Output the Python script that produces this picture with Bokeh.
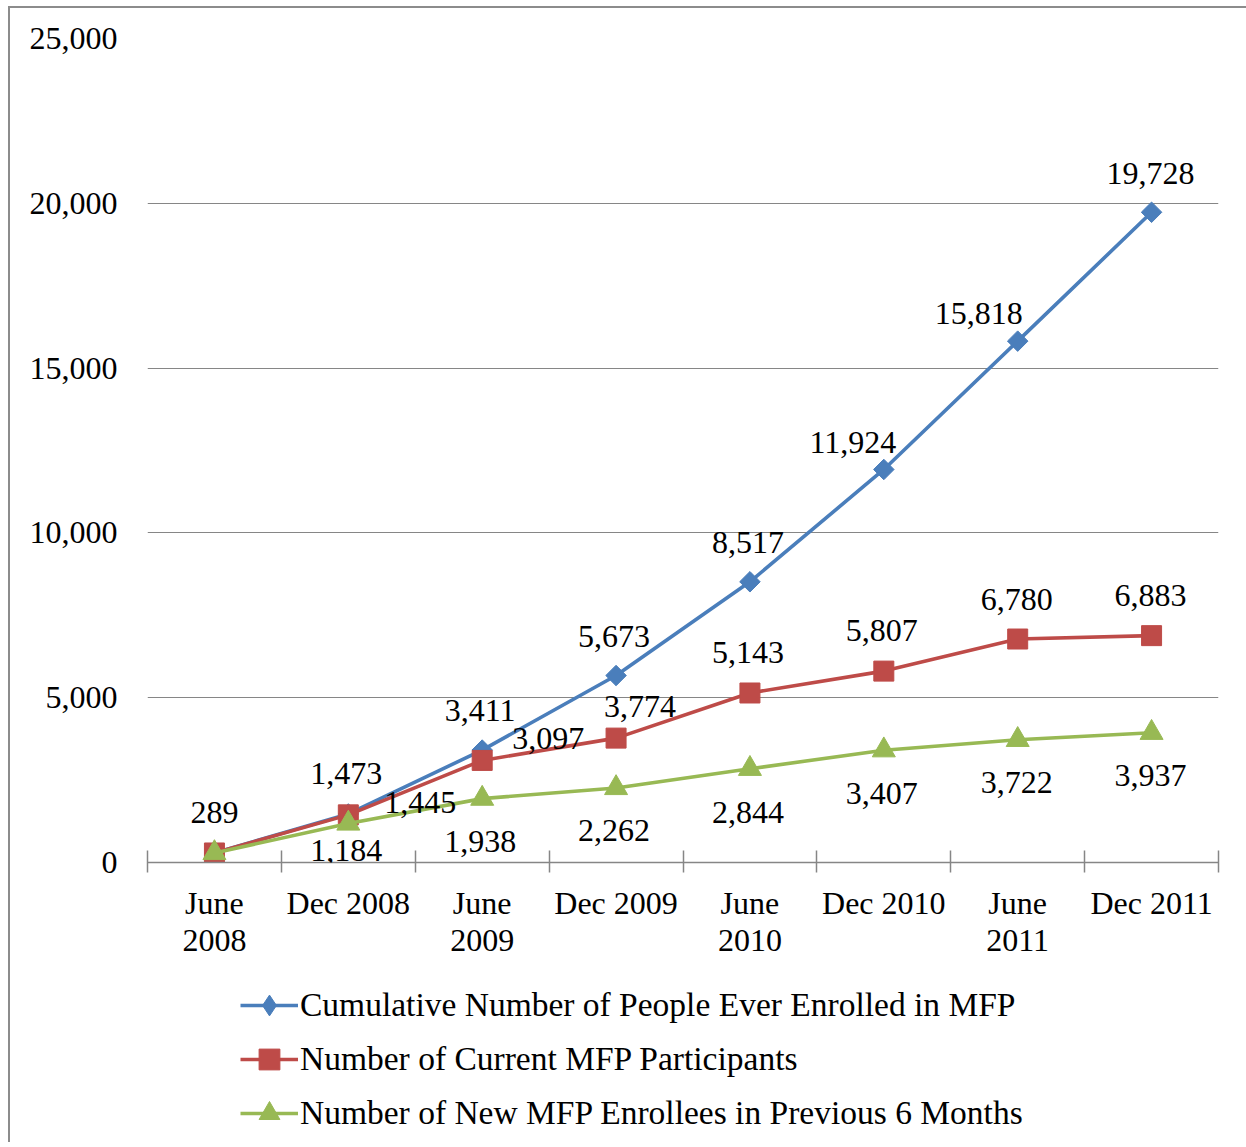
import math
from bokeh.plotting import figure
from bokeh.layouts import column
from bokeh.models import (ColumnDataSource, LabelSet, Legend, LegendItem, LinearAxis,
                          FixedTicker, NumeralTickFormatter, Range1d)
from bokeh.core.properties import value
from bokeh.embed import file_html
from bokeh.resources import INLINE

# ---------------- data ----------------
categories = ["June 2008", "Dec 2008", "June 2009", "Dec 2009",
              "June 2010", "Dec 2010", "June 2011", "Dec 2011"]
tick_labels = ["June\n2008", "Dec 2008", "June\n2009", "Dec 2009",
               "June\n2010", "Dec 2010", "June\n2011", "Dec 2011"]
cumulative = [289, 1473, 3411, 5673, 8517, 11924, 15818, 19728]
current = [289, 1445, 3097, 3774, 5143, 5807, 6780, 6883]
new_enrollees = [289, 1184, 1938, 2262, 2844, 3407, 3722, 3937]
y_ticks = [0, 5000, 10000, 15000, 20000, 25000]
series_names = ["Cumulative Number of People Ever Enrolled in MFP",
                "Number of Current MFP Participants",
                "Number of New MFP Enrollees in Previous 6 Months"]

# label placement (screen px offsets); first label of series 2/3 coincides with series 1
cum_dx = [0, -2, -2, -2, -2, -31, -39, -1]
cum_dy = [40, 40, 40, 39, 39, 27, 28, 39]
cur_dx = [0, 72, 66, 24, -2, -2, -1, -1]
cur_dy = [40, 12, 22, 32, 40, 41, 40, 40]
new_dx = [0, -2, -2, -2, -2, -2, -1, -1]
new_dy = [40, -27, -43, -43, -44, -43, -43, -43]
label_start = [0, 1, 1]

FONT = "Liberation Serif"
GRID = "#868686"
colors = ["#4A7EBB", "#BE4B48", "#98B954"]

p = figure(width=1236, height=964, x_range=categories,
           y_range=(0, 25000), x_axis_type=None, output_backend="svg",
           toolbar_location=None, min_border_left=137, min_border_right=28,
           min_border_top=30, min_border_bottom=110)
p.outline_line_color = None
p.background_fill_color = "white"

# y axis
ya = p.yaxis[0]
ya.ticker = FixedTicker(ticks=y_ticks)
ya.formatter = NumeralTickFormatter(format="0,0")
ya.axis_line_color = None
ya.major_tick_line_color = None
ya.minor_tick_line_color = None
ya.major_tick_out = 0
ya.major_label_standoff = 30
ya.major_label_text_font = FONT
ya.major_label_text_font_size = "32px"
ya.major_label_text_color = "black"
p.ygrid.grid_line_color = GRID
p.ygrid.grid_line_width = 1.2
p.ygrid.ticker = FixedTicker(ticks=y_ticks)

# x axis: labels at category centres, ticks at boundaries
centres = [i + 0.5 for i in range(len(categories))]
bounds = list(range(len(categories) + 1))
xa = LinearAxis(ticker=FixedTicker(ticks=centres, minor_ticks=bounds),
                major_label_overrides={c: t for c, t in zip(centres, tick_labels)})
xa.major_tick_line_color = None
xa.major_tick_in = 0
xa.major_tick_out = 0
xa.minor_tick_in = 12
xa.minor_tick_out = 10
xa.minor_tick_line_color = GRID
xa.minor_tick_line_width = 1.5
xa.axis_line_color = GRID
xa.axis_line_width = 1.5
xa.major_label_standoff = 12
xa.major_label_text_font = FONT
xa.major_label_text_font_size = "32px"
xa.major_label_text_line_height = 1.03
xa.major_label_text_color = "black"
p.add_layout(xa, "below")

# legend panel (separate figure below the chart)
q = figure(width=1236, height=170, x_range=Range1d(0, 1), y_range=Range1d(0, 1),
           x_axis_type=None, y_axis_type=None, output_backend="svg",
           toolbar_location=None, min_border=0)
q.outline_line_color = None
q.grid.visible = False

series = [cumulative, current, new_enrollees]
offsets = [(cum_dx, cum_dy), (cur_dx, cur_dy), (new_dx, new_dy)]
items = []
for k, (vals, name, col, (dx, dy)) in enumerate(zip(series, series_names, colors, offsets)):
    src = ColumnDataSource(dict(x=categories, y=vals))
    p.line("x", "y", source=src, line_color=col, line_width=3.6)
    if k == 0:
        p.scatter("x", "y", source=src, marker="square", angle=math.pi / 4,
                  size=14.5, fill_color=col, line_color=col)
        mk = "diamond"
    elif k == 1:
        p.scatter("x", "y", source=src, marker="square", size=20,
                  fill_color=col, line_color=col)
        mk = "square"
    else:
        p.scatter("x", "y", source=src, marker="triangle", size=23,
                  fill_color=col, line_color=col)
        mk = "triangle"
    # legend swatches (placed outside the legend panel's visible range)
    lr = q.line(x=[-5, -4], y=[-5, -5], line_color=col, line_width=3.6)
    sr = q.scatter(x=[-5], y=[-5], marker=mk, fill_color=col, line_color=col)
    items.append(LegendItem(label=name, renderers=[lr, sr]))
    s0 = label_start[k]
    lsrc = ColumnDataSource(dict(x=categories[s0:], y=vals[s0:],
                                 text=[f"{v:,}" for v in vals[s0:]],
                                 dx=dx[s0:], dy=dy[s0:]))
    labels = LabelSet(x="x", y="y", text="text", x_offset="dx", y_offset="dy",
                      source=lsrc, text_align="center", text_baseline="middle",
                      text_font=value(FONT), text_font_size=value("32px"),
                      text_color="black")
    p.add_layout(labels)

legend = Legend(items=items, location=(93, 3), orientation="vertical",
                glyph_width=58, glyph_height=52, label_height=52, spacing=2,
                padding=0, margin=0, label_standoff=2,
                label_text_font=FONT, label_text_font_size="33.5px",
                label_text_color="black", border_line_color=None,
                background_fill_alpha=0)
q.add_layout(legend)

layout = column(p, q, spacing=0)
layout.styles = {"margin-left": "8px", "margin-top": "6px",
                 "border-left": "2px solid #8c8c8c", "border-top": "2px solid #8c8c8c"}

open("out.html", "w").write(file_html(layout, INLINE))
